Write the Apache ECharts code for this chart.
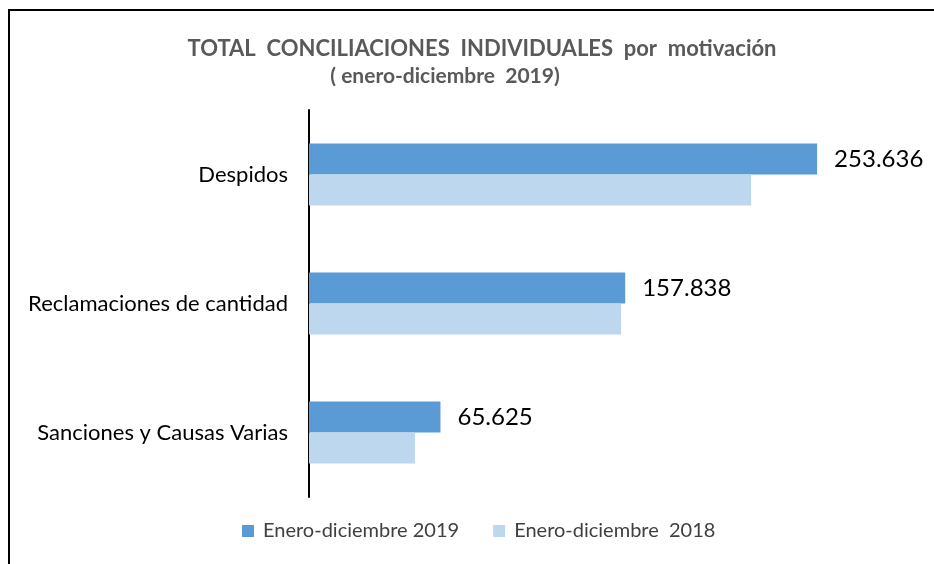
<!DOCTYPE html>
<html>
<head>
<meta charset="utf-8">
<script src="https://cdn.jsdelivr.net/npm/echarts@6/dist/echarts.min.js"></script>
<style>
  html, body { margin: 0; padding: 0; background: #fff; }
  #chart { width: 934px; height: 564px; }
</style>
</head>
<body>
<div id="chart"></div>
<script>
const categories = ['Sanciones y Causas Varias', 'Reclamaciones de cantidad', 'Despidos']
const values2019 = [65625, 157838, 253636]
const values2018 = [52900, 155800, 220700]
const seriesNames = ['Enero-diciembre 2019', 'Enero-diciembre  2018']

const fontFamily = 'Lato, "Noto Sans", sans-serif'

// thousands with a dot, as in the source
const fmt = v => String(v).replace(/\B(?=(\d{3})+(?!\d))/g, '.')

const chart = echarts.init(document.getElementById('chart'))
chart.setOption({
  animation: false,
  title: [
    {
      text: 'TOTAL  CONCILIACIONES  INDIVIDUALES  por  motivación',
      left: 477,
      textAlign: 'center',
      top: 33,
      textStyle: { fontFamily, fontSize: 22, fontWeight: 'bold', color: '#595959' }
    },
    {
      text: '( enero-diciembre  2019)',
      left: 440,
      textAlign: 'center',
      top: 61,
      textStyle: { fontFamily, fontSize: 21, fontWeight: 'bold', color: '#595959' }
    }
  ],
  graphic: [
    {
      type: 'rect',
      shape: { x: 9, y: 10, width: 1000, height: 1000 },
      style: { fill: 'none', stroke: '#000', lineWidth: 2 },
      silent: true
    }
  ],
  legend: {
    bottom: 18,
    left: 237,
    itemWidth: 12,
    itemHeight: 12,
    itemGap: 34,
    icon: 'rect',
    textStyle: { fontFamily, fontSize: 20, color: '#404040', padding: [0, 0, 0, 4] },
    data: seriesNames
  },
  grid: {
    left: 309,
    top: 110,
    width: 601,
    height: 387
  },
  xAxis: {
    type: 'value',
    min: 0,
    max: 300000,
    show: false
  },
  yAxis: {
    type: 'category',
    data: categories,
    axisLine: { show: true, lineStyle: { color: '#000', width: 2 } },
    axisTick: { show: false },
    axisLabel: { fontFamily, fontSize: 22, color: '#000', margin: 21 }
  },
  series: [
    {
      name: seriesNames[0],
      type: 'bar',
      data: values2019,
      barWidth: 31,
      barGap: '0%',
      itemStyle: { color: '#5b9bd5' },
      label: {
        show: true,
        position: 'right',
        distance: 17,
        fontFamily,
        fontSize: 24,
        color: '#000',
        formatter: p => fmt(p.value)
      }
    },
    {
      name: seriesNames[1],
      type: 'bar',
      data: values2018,
      barWidth: 31,
      barGap: '0%',
      itemStyle: { color: '#bdd7ee' }
    }
  ]
})
</script>
</body>
</html>
